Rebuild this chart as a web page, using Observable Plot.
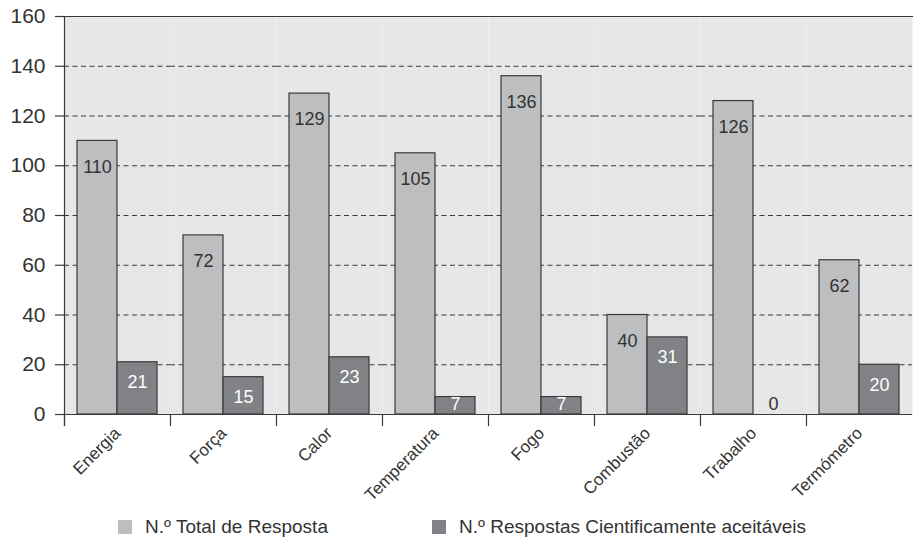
<!DOCTYPE html>
<html>
<head>
<meta charset="utf-8">
<script src="https://cdn.jsdelivr.net/npm/d3@7"></script>
<script src="https://cdn.jsdelivr.net/npm/@observablehq/plot@0.6"></script>
<style>
  html, body { margin: 0; padding: 0; background: #fff; }
  body { width: 915px; height: 539px; overflow: hidden; font-family: "Liberation Sans", Arial, sans-serif; color: #333; }
  #chart svg { overflow: visible; display: block; }
  #legend { position: relative; height: 39px; }
  .item { position: absolute; top: 17px; display: flex; align-items: center; font-size: 19px; line-height: 1; }
  .swatch { width: 14px; height: 14px; margin-right: 13px; }
</style>
</head>
<body>
<div id="chart"></div>
<div id="legend"></div>
<script>
// Categories and values
const categories = ["Energia", "Força", "Calor", "Temperatura", "Fogo", "Combustão", "Trabalho", "Termómetro"];
const seriesNames = ["N.º Total de Resposta", "N.º Respostas Cientificamente aceitáveis"];
const totalRespostas = [110, 72, 129, 105, 136, 40, 126, 62];
const respostasAceitaveis = [21, 15, 23, 7, 7, 31, 0, 20];
const yTicks = [0, 20, 40, 60, 80, 100, 120, 140, 160];
const gridTicks = [20, 40, 60, 80, 100, 120, 140];

const colors = ["#bcbec0", "#808285"];
const ink = "#333333";
const lineColor = "#3a3a3a";

const rows = categories.flatMap((c, i) => [
  {cat: c, series: seriesNames[0], value: totalRespostas[i]},
  {cat: c, series: seriesNames[1], value: respostasAceitaveis[i]}
]);
const totals = rows.filter(d => d.series === seriesNames[0]);
const aceites = rows.filter(d => d.series === seriesNames[1]);

const W = 915, H = 500, mTop = 16, mBottom = 86, mLeft = 60, mRight = 0;
const innerH = H - mTop - mBottom;

const chart = Plot.plot({
  width: W,
  height: H,
  marginTop: mTop,
  marginBottom: mBottom,
  marginLeft: mLeft,
  marginRight: mRight,
  style: {fontFamily: "Liberation Sans, Arial, sans-serif", color: ink, background: "#fff", overflow: "visible"},
  fx: {domain: categories, padding: 0, axis: null},
  x: {domain: seriesNames, paddingInner: 0, paddingOuter: 0.3, axis: null},
  y: {domain: [0, 160], axis: null},
  color: {domain: seriesNames, range: colors},
  marks: [
    Plot.frame({fill: "#e6e7e8", stroke: "none"}),
    Plot.ruleY(gridTicks, {stroke: lineColor, strokeWidth: 1, strokeDasharray: "5,3.5"}),
    Plot.barY(rows, {fx: "cat", x: "series", y: "value", fill: "series", stroke: lineColor, strokeWidth: 1.2}),
    Plot.text(totals, {fx: "cat", x: "series", y: "value", text: d => String(d.value), dy: 26, fill: ink, fontSize: 18}),
    Plot.text(aceites, {fx: "cat", x: "series", y: d => Math.max(d.value, 12), text: d => String(d.value), dy: 20,
      fill: d => d.value > 0 ? "#ffffff" : ink, fontSize: 18}),
    Plot.ruleY([0], {stroke: lineColor, strokeWidth: 1.2}),
    Plot.frame({anchor: "top", stroke: lineColor, strokeWidth: 1.2}),
    // category separator ticks below the baseline
    Plot.frame({anchor: "left", stroke: lineColor, strokeWidth: 1.2, insetTop: innerH, insetBottom: -11}),
    // y axis line
    Plot.frame({anchor: "left", facetAnchor: "left", stroke: lineColor, strokeWidth: 1.2, insetBottom: -11}),
    Plot.axisY({ticks: yTicks, tickSize: 9, tickPadding: 10, fontSize: 21, stroke: lineColor, strokeWidth: 1.2, fill: ink, label: null}),
    Plot.axisFx({anchor: "bottom", tickSize: 0, tickRotate: -45, tickPadding: 16, dx: 0, fontSize: 17, fill: ink, label: null})
  ]
});
document.getElementById("chart").appendChild(chart);

// Legend
const legend = document.getElementById("legend");
const lefts = [118, 432];
seriesNames.forEach((name, i) => {
  const item = document.createElement("div");
  item.className = "item";
  item.style.left = lefts[i] + "px";
  const sw = document.createElement("span");
  sw.className = "swatch";
  sw.style.background = colors[i];
  const label = document.createElement("span");
  label.textContent = name;
  item.appendChild(sw);
  item.appendChild(label);
  legend.appendChild(item);
});
</script>
</body>
</html>
